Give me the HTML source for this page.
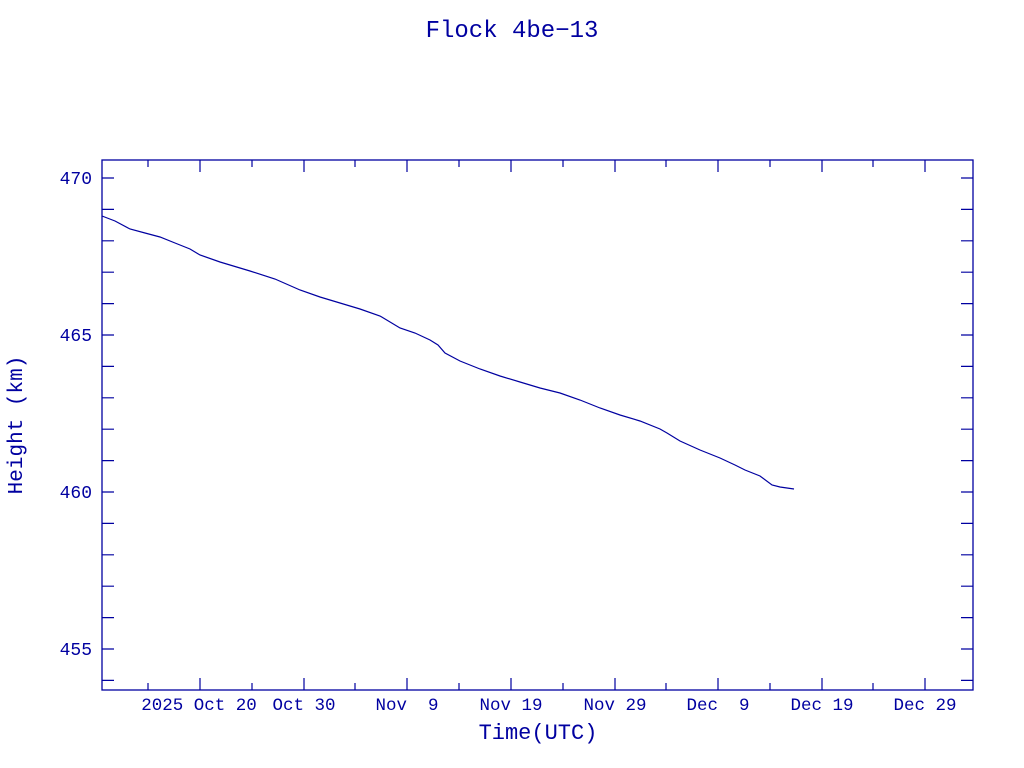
<!DOCTYPE html>
<html><head><style>body{margin:0;background:#fff}svg{display:block}text{white-space:pre}</style></head><body>
<svg width="1024" height="768" xmlns="http://www.w3.org/2000/svg" font-family="Liberation Mono, monospace" fill="#0000a0">
<rect width="1024" height="768" fill="#fff"/>
<text x="512" y="37" font-size="24" text-anchor="middle">Flock 4be−13</text>
<rect x="102" y="160" width="871" height="530" fill="none" stroke="#0000a0" stroke-width="1.3"/>
<g stroke="#0000a0" stroke-width="1.2">
<path d="M102 178h12M102 209.4h12M102 240.8h12M102 272.2h12M102 303.6h12M102 335h12M102 366.4h12M102 397.8h12M102 429.2h12M102 460.6h12M102 492h12M102 523.4h12M102 554.8h12M102 586.2h12M102 617.6h12M102 649h12M102 680.4h12
M973 178h-12M973 209.4h-12M973 240.8h-12M973 272.2h-12M973 303.6h-12M973 335h-12M973 366.4h-12M973 397.8h-12M973 429.2h-12M973 460.6h-12M973 492h-12M973 523.4h-12M973 554.8h-12M973 586.2h-12M973 617.6h-12M973 649h-12M973 680.4h-12"/>
<path d="M148 690v-7M252 690v-7M355 690v-7M459 690v-7M563 690v-7M666 690v-7M770 690v-7M873 690v-7
M200 690v-12M304 690v-12M407 690v-12M511 690v-12M615 690v-12M718 690v-12M822 690v-12M925 690v-12
M148 160v7M252 160v7M355 160v7M459 160v7M563 160v7M666 160v7M770 160v7M873 160v7
M200 160v12M304 160v12M407 160v12M511 160v12M615 160v12M718 160v12M822 160v12M925 160v12"/>
</g>
<g font-size="18" text-anchor="end">
<text x="92" y="184">470</text><text x="92" y="341">465</text><text x="92" y="498">460</text><text x="92" y="655">455</text>
</g>
<g font-size="17.5" text-anchor="middle">
<text x="199" y="710">2025 Oct 20</text><text x="304" y="710">Oct 30</text><text x="407" y="710">Nov  9</text>
<text x="511" y="710">Nov 19</text><text x="615" y="710">Nov 29</text><text x="718" y="710">Dec  9</text>
<text x="822" y="710">Dec 19</text><text x="925" y="710">Dec 29</text>
</g>
<text x="538" y="739" font-size="22" text-anchor="middle">Time(UTC)</text>
<text transform="translate(22,425) rotate(-90)" font-size="21" text-anchor="middle">Height (km)</text>
<polyline fill="none" stroke="#0000a0" stroke-width="1.2" points="102,216 115,221 130,229 145,233 160,237 175,243 190,249 200,255 220,262 250,271 275,279 300,290 320,297 340,303 360,309 380,316 400,328 415,333 430,340 438,345 445,353 460,361 480,369 500,376 520,382 540,388 560,393 580,400 600,408 620,415 640,421 660,429 667,433 680,441 700,450 720,458 735,465 745,470 760,476 772,485 780,487 794,489"/>
</svg>
</body></html>
